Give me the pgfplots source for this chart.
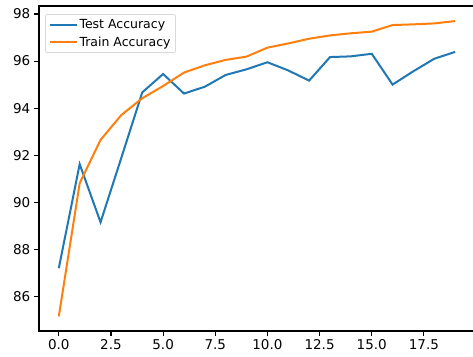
\documentclass[border=0pt]{standalone}
\usepackage{pgfplots}
\pgfplotsset{compat=1.18}
\usepackage{fontspec}
\setmainfont{DejaVu Sans}
\definecolor{tabblue}{HTML}{1F77B4}
\definecolor{taborange}{HTML}{FF7F0E}
\begin{document}
\begin{tikzpicture}
\begin{axis}[
    name=ax,
    scale only axis,
    width=436pt, height=325pt,
    xmin=-0.95, xmax=19.95,
    ymin=84.53, ymax=98.34,
    xtick={0,2.5,5,7.5,10,12.5,15,17.5},
    ytick={86,88,90,92,94,96,98},
    xticklabel style={/pgf/number format/.cd,fixed,fixed zerofill,precision=1},
    /pgf/number format/assume math mode=true,
    tick align=outside,
    major tick length=4.9pt,
    tick style={black, line width=1.1pt},
    axis line style={line width=1.1pt},
    every axis/.append style={line width=1.1pt},
    xtick pos=bottom, ytick pos=left,
    font=\fontsize{13.5}{16}\selectfont,
    legend style={at={(0.014,0.975)}, anchor=north west, draw=black!15,
        rounded corners=2pt, fill=white, line width=0.8pt,
        font=\fontsize{12.5}{15}\selectfont, row sep=2.5pt,
        inner ysep=3pt, inner xsep=3pt},
    legend cell align=left,
    legend image code/.code={\draw[#1] (0pt,0pt) -- (27pt,0pt);},
]
\addplot[color=tabblue, line width=2pt] coordinates {
(0,87.2)(1,91.62)(2,89.15)(3,91.9)(4,94.67)(5,95.45)(6,94.62)(7,94.91)
(8,95.41)(9,95.65)(10,95.95)(11,95.6)(12,95.17)(13,96.17)(14,96.2)
(15,96.31)(16,95.0)(17,95.57)(18,96.1)(19,96.39)};
\addlegendentry{Test Accuracy}
\addplot[color=taborange, line width=2pt] coordinates {
(0,85.15)(1,90.81)(2,92.65)(3,93.71)(4,94.42)(5,94.94)(6,95.51)(7,95.82)
(8,96.05)(9,96.19)(10,96.57)(11,96.75)(12,96.95)(13,97.09)(14,97.18)
(15,97.25)(16,97.53)(17,97.56)(18,97.6)(19,97.7)};
\addlegendentry{Train Accuracy}
\end{axis}
\pgfresetboundingbox
\path[use as bounding box] ([xshift=-39pt,yshift=-25pt]ax.south west) rectangle ([xshift=-2pt,yshift=6pt]ax.north east);
\end{tikzpicture}
\end{document}
